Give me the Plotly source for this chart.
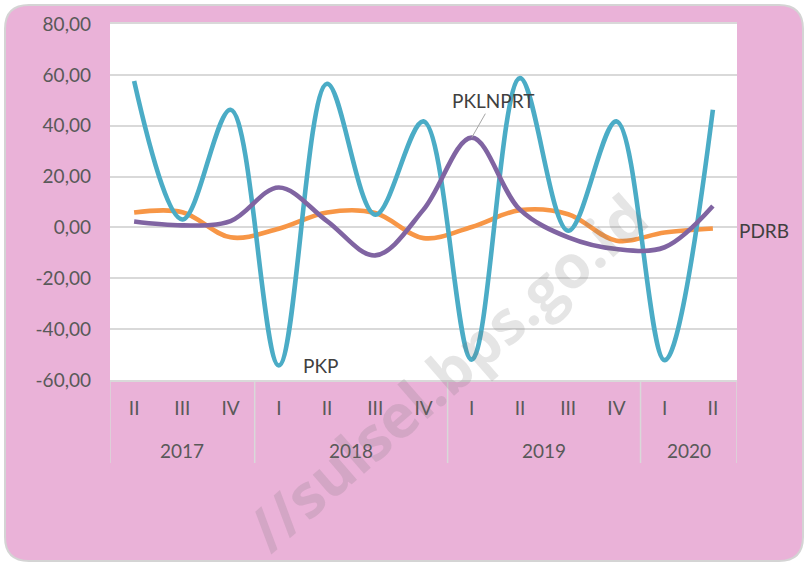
import plotly.graph_objects as go

# ---- data ----
years = ["2017", "2017", "2017", "2018", "2018", "2018", "2018",
         "2019", "2019", "2019", "2019", "2020", "2020"]
quarters = ["II", "III", "IV", "I", "II", "III", "IV",
            "I", "II", "III", "IV", "I", "II"]
PKP = [57.6, 3.1, 46.3, -54.3, 56.5, 5.0, 41.7, -52.0, 58.7, -1.3, 41.7, -52.2, 46.3]
PDRB = [5.9, 6.0, -3.9, -0.5, 5.9, 5.7, -4.2, 0.2, 6.8, 5.2, -5.2, -2.0, -0.4]
PKLNPRT = [2.3, 0.8, 2.5, 15.7, 2.5, -11.0, 7.0, 35.3, 7.0, -3.9, -8.5, -7.8, 8.4]
y_tickvals = [-60, -40, -20, 0, 20, 40, 60, 80]
y_ticktext = ["-60,00", "-40,00", "-20,00", "0,00", "20,00", "40,00", "60,00", "80,00"]
watermark = "//sulsel.bps.go.id"

# ---- styling ----
W, H = 804, 563
L, R, T, B = 110, 67, 24, 183
PW, PH = W - L - R, H - T - B
FONT = "Lato"
AXIS_COLOR = "#595959"
LABEL_COLOR = "#404040"
GRID = "#d9d9d9"
PINK = "#EAB2D8"

def px(x):
    return (x - L) / PW

def py(y):
    return (H - B - y) / PH

keys = [f"{y} {q}" for y, q in zip(years, quarters)]
n = len(keys)

fig = go.Figure()
series = [("PDRB", PDRB, "#F79646"), ("PKP", PKP, "#4BACC6"), ("PKLNPRT", PKLNPRT, "#8064A2")]
for name, vals, color in series:
    fig.add_trace(go.Scatter(
        x=keys, y=vals, mode="lines", name=name,
        line=dict(color=color, width=4.6, shape="spline", smoothing=1.0),
        showlegend=False, hoverinfo="skip"))

# rounded pink card
x0, y0, x1, y1, r = 5, 5, 803, 561, 24
def P(x, y):
    return f"{px(x):.5f},{py(y):.5f}"
path = (f"M {P(x0 + r, y0)} L {P(x1 - r, y0)} Q {P(x1, y0)} {P(x1, y0 + r)} "
        f"L {P(x1, y1 - r)} Q {P(x1, y1)} {P(x1 - r, y1)} "
        f"L {P(x0 + r, y1)} Q {P(x0, y1)} {P(x0, y1 - r)} "
        f"L {P(x0, y0 + r)} Q {P(x0, y0)} {P(x0 + r, y0)} Z")
shapes = [
    dict(type="path", path=path, xref="paper", yref="paper", layer="below",
         fillcolor=PINK, line=dict(color="#d4d4d4", width=2)),
    dict(type="rect", xref="paper", yref="paper", x0=0, x1=1, y0=0, y1=1,
         layer="below", fillcolor="white", line=dict(width=0)),
]

# year groups: dividers and labels
groups = []
for i, y in enumerate(years):
    if not groups or groups[-1][0] != y:
        groups.append([y, i, i])
    else:
        groups[-1][2] = i
bounds = sorted({g[1] - 0.5 for g in groups} | {g[2] + 0.5 for g in groups})
for b in bounds:
    shapes.append(dict(type="line", xref="x", yref="paper", x0=b, x1=b,
                       y0=py(380), y1=py(463), line=dict(color=GRID, width=1.5)))

i_pkl = max(range(n), key=lambda i: PKLNPRT[i])
i_pkp = min(range(n), key=lambda i: PKP[i])
annotations = []
for y, a, b in groups:
    annotations.append(dict(x=(a + b) / 2, y=py(450), xref="x", yref="paper",
                            text=y, showarrow=False, xanchor="center", yanchor="middle",
                            font=dict(family=FONT, size=19, color=AXIS_COLOR)))
annotations += [
    dict(x=i_pkl, y=PKLNPRT[i_pkl], xref="x", yref="y", text="PKLNPRT",
         showarrow=True, arrowhead=0, arrowwidth=1, arrowcolor="#a6a6a6",
         ax=21, ay=-37, font=dict(family=FONT, size=19, color=LABEL_COLOR)),
    dict(x=n - 1, y=PDRB[-1], xref="x", yref="y", text="PDRB", showarrow=False,
         xanchor="left", xshift=24, yshift=-2,
         font=dict(family=FONT, size=19, color=LABEL_COLOR)),
    dict(x=i_pkp, y=PKP[i_pkp], xref="x", yref="y", text="PKP", showarrow=False,
         xanchor="left", xshift=22, yshift=0,
         font=dict(family=FONT, size=19, color=LABEL_COLOR)),
    dict(x=px(446), y=py(372), xref="paper", yref="paper", text=watermark,
         showarrow=False, textangle=-41, xanchor="center", yanchor="middle",
         font=dict(family="Open Sans", size=60, color="rgba(110,110,110,0.18)", weight="bold")),
]

fig.update_layout(
    width=W, height=H, autosize=False,
    margin=dict(l=L, r=R, t=T, b=B, pad=0),
    paper_bgcolor="white", plot_bgcolor="white",
    shapes=shapes, annotations=annotations,
    font=dict(family=FONT, size=19, color=AXIS_COLOR),
    xaxis=dict(type="category", range=[-0.5, n - 0.5],
               tickvals=keys, ticktext=quarters,
               ticks="", showgrid=False, showline=True, mirror=True,
               linecolor=GRID, linewidth=1.5, ticklabelstandoff=10,
               tickfont=dict(family=FONT, size=19, color=AXIS_COLOR)),
    yaxis=dict(range=[-60, 80], tickvals=y_tickvals, ticktext=y_ticktext,
               showgrid=True, gridcolor=GRID, gridwidth=1.5, zeroline=False,
               showline=False, ticks="", ticklabelstandoff=18,
               tickfont=dict(family=FONT, size=19, color=AXIS_COLOR)),
)

fig.write_html("out.html", config={"displayModeBar": False},
               post_script="document.body.style.margin='0';")
